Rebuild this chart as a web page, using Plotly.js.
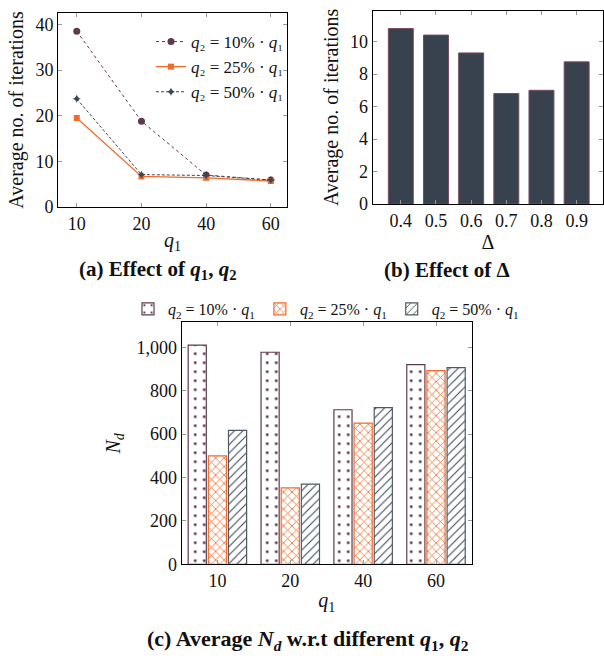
<!DOCTYPE html>
<html><head><meta charset="utf-8">
<script src="https://cdn.plot.ly/plotly-3.0.1.min.js"></script>
<style>html,body{margin:0;padding:0;background:#fff}#chart{width:604px;height:662px}</style>
</head><body><div id="chart"></div>
<script>
// (a) iterations vs q1
const q1Labels = ['10', '20', '40', '60'];
const iter10 = [38.5, 18.8, 7.0, 5.9];
const iter25 = [19.5, 6.7, 6.4, 5.7];
const iter50 = [23.7, 7.1, 6.9, 5.9];
// (b) iterations vs Delta
const deltaLabels = ['0.4', '0.5', '0.6', '0.7', '0.8', '0.9'];
const deltaIter = [10.8, 10.4, 9.3, 6.8, 7.0, 8.75];
// (c) N_d vs q1
const nd10 = [1010, 977, 712, 920];
const nd25 = [500, 352, 650, 892];
const nd50 = [617, 369, 722, 906];
const seriesNames = [
  '<i>q</i><sub>2</sub> = 10% · <i>q</i><sub>1</sub>',
  '<i>q</i><sub>2</sub> = 25% · <i>q</i><sub>1</sub>',
  '<i>q</i><sub>2</sub> = 50% · <i>q</i><sub>1</sub>'
];
const seriesNamesCompact = [
  '<i>q</i>₂ = 10% · <i>q</i>₁',
  '<i>q</i>₂ = 25% · <i>q</i>₁',
  '<i>q</i>₂ = 50% · <i>q</i>₁'
];

const cMaroon = '#5e3a4e', cOrange = '#f26b2a', cSlate = '#3a4653';
const W = 604, H = 662;
const px = v => v / W, py = v => 1 - v / H;
const FONT = 'Liberation Serif, DejaVu Serif, serif';

const traces = [
  {x: q1Labels, y: iter10, type: 'scatter', mode: 'lines+markers', name: seriesNamesCompact[0],
   line: {color: cMaroon, dash: 'dot', width: 1}, marker: {symbol: 'circle', size: 7, color: cMaroon},
   xaxis: 'x', yaxis: 'y', legend: 'legend'},
  {x: q1Labels, y: iter25, type: 'scatter', mode: 'lines+markers', name: seriesNamesCompact[1],
   line: {color: cOrange, width: 1.3}, marker: {symbol: 'square', size: 6, color: cOrange},
   xaxis: 'x', yaxis: 'y', legend: 'legend'},
  {x: q1Labels, y: iter50, type: 'scatter', mode: 'lines+markers', name: seriesNamesCompact[2],
   line: {color: cSlate, dash: '3px,2px', width: 1}, marker: {symbol: 'star-diamond', size: 6, color: cSlate},
   xaxis: 'x', yaxis: 'y', legend: 'legend'},
  {x: deltaLabels, y: deltaIter, type: 'bar', showlegend: false, width: 0.71,
   marker: {color: '#37424e', line: {color: '#7a4a60', width: 1}}, xaxis: 'x2', yaxis: 'y2'},
  {x: q1Labels, y: nd10, type: 'bar', name: seriesNames[0], legend: 'legend2',
   marker: {color: '#fff', line: {color: cMaroon, width: 1.2},
     pattern: {shape: '.', fgcolor: cMaroon, bgcolor: '#fff', size: 9, solidity: 0.08}},
   xaxis: 'x3', yaxis: 'y3'},
  {x: q1Labels, y: nd25, type: 'bar', name: seriesNames[1], legend: 'legend2',
   marker: {color: '#fff', line: {color: cOrange, width: 1.2},
     pattern: {shape: 'x', fgcolor: cOrange, bgcolor: '#fff', size: 6, solidity: 0.25}},
   xaxis: 'x3', yaxis: 'y3'},
  {x: q1Labels, y: nd50, type: 'bar', name: seriesNames[2], legend: 'legend2',
   marker: {color: '#fff', line: {color: '#4d5a66', width: 1.2},
     pattern: {shape: '/', fgcolor: cSlate, bgcolor: '#fff', size: 6, solidity: 0.18}},
   xaxis: 'x3', yaxis: 'y3'}
];

const axBase = {showline: true, mirror: 'ticks', linecolor: '#000', linewidth: 1, showgrid: false, zeroline: false,
  ticks: 'inside', ticklen: 4, tickcolor: '#999', tickfont: {family: FONT, size: 18, color: '#111'}, fixedrange: true};
const tit = t => ({text: t, font: {family: FONT, size: 20, color: '#111'}});

const layout = {
  width: W, height: H, margin: {l: 0, r: 0, t: 0, b: 0}, paper_bgcolor: '#fff', plot_bgcolor: '#fff',
  font: {family: FONT, color: '#111'},
  barmode: 'group', bargap: 0.17, bargroupgap: 0.1,
  xaxis: Object.assign({}, axBase, {domain: [px(58), px(287)], type: 'category', range: [-0.29, 3.25],
    anchor: 'y', title: Object.assign(tit('<i>q</i><sub>1</sub>'), {standoff: 0})}),
  yaxis: Object.assign({}, axBase, {domain: [py(207), py(13)], range: [0, 42.5], dtick: 10, anchor: 'x',
    title: Object.assign(tit('Average no. of iterations'), {standoff: 6})}),
  xaxis2: Object.assign({}, axBase, {domain: [px(372.7), px(603)], type: 'category', range: [-0.8, 5.75],
    anchor: 'y2', title: Object.assign(tit('Δ'), {standoff: 5})}),
  yaxis2: Object.assign({}, axBase, {domain: [py(204), py(10.7)], range: [0, 11.9], dtick: 2, anchor: 'x2',
    title: Object.assign(tit('Average no. of iterations'), {standoff: 6})}),
  xaxis3: Object.assign({}, axBase, {domain: [px(181.7), px(471.7)], type: 'category', range: [-0.49, 3.49],
    anchor: 'y3', title: Object.assign(tit('<i>q</i><sub>1</sub>'), {standoff: 3})}),
  yaxis3: Object.assign({}, axBase, {domain: [py(564.3), py(322.3)], range: [0, 1115], dtick: 200, tickformat: ',',
    anchor: 'x3', title: Object.assign(tit('<i>N</i><sub><i>d</i></sub>'), {standoff: 10})}),
  legend: {x: px(289), y: py(24), xanchor: 'right', yanchor: 'top', bgcolor: 'rgba(255,255,255,0)',
    font: {family: FONT, size: 17}, tracegroupgap: 0, itemwidth: 30},
  legend2: {orientation: 'h', x: px(326), y: py(292), xanchor: 'center', yanchor: 'top', bgcolor: 'rgba(0,0,0,0)',
    font: {family: FONT, size: 16}, itemwidth: 30, tracegroupgap: 0},
  annotations: [
    {text: '<b>(a) Effect of <i>q</i><sub>1</sub>, <i>q</i><sub>2</sub></b>', x: px(158), y: py(270), xref: 'paper', yref: 'paper',
     xanchor: 'center', yanchor: 'middle', showarrow: false, font: {family: FONT, size: 21, color: '#111'}},
    {text: '<b>(b) Effect of Δ</b>', x: px(447), y: py(270), xref: 'paper', yref: 'paper',
     xanchor: 'center', yanchor: 'middle', showarrow: false, font: {family: FONT, size: 21, color: '#111'}},
    {text: '<b>(c) Average <i>N</i><sub><i>d</i></sub> w.r.t different <i>q</i><sub>1</sub>, <i>q</i><sub>2</sub></b>', x: px(308), y: py(640),
     xref: 'paper', yref: 'paper', xanchor: 'center', yanchor: 'middle', showarrow: false, font: {family: FONT, size: 22, color: '#111'}}
  ]
};

Plotly.newPlot('chart', traces, layout, {displayModeBar: false, staticPlot: true});
</script></body></html>
